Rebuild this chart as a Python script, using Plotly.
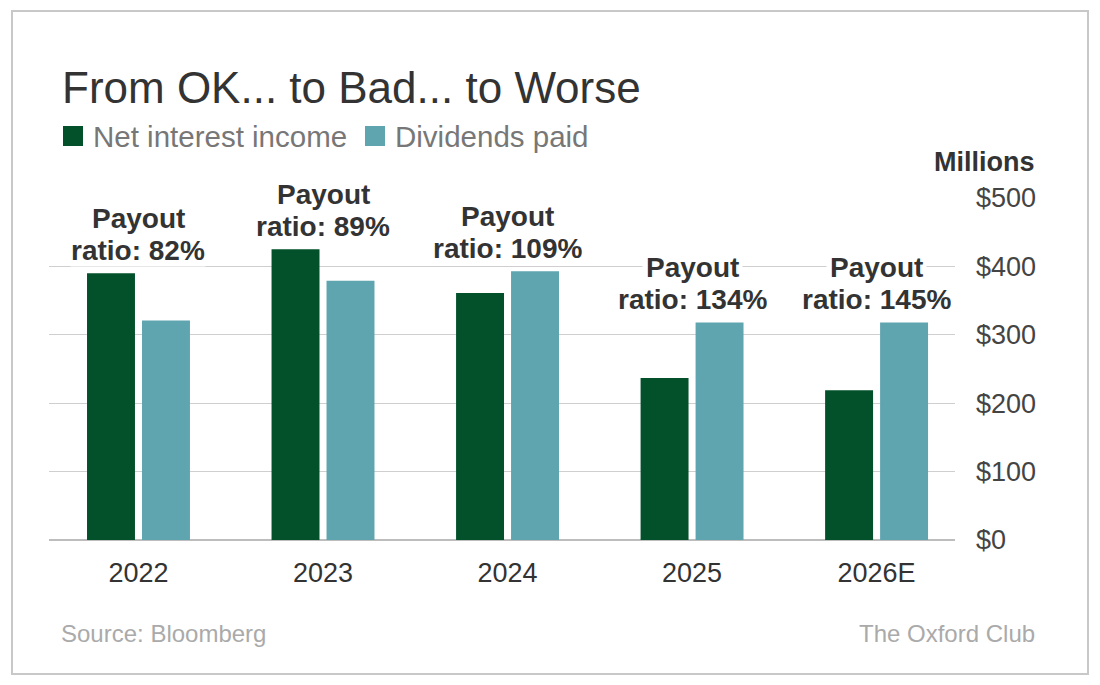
import plotly.graph_objects as go

# ---- data ----
years = ["2022", "2023", "2024", "2025", "2026E"]
net_interest_income = [390, 425, 361, 237, 219]
dividends_paid = [321, 379, 393, 318, 318]
payout_ratios = ["82%", "89%", "109%", "134%", "145%"]
y_ticks = [0, 100, 200, 300, 400, 500]
y_tick_labels = ["$0", "$100", "$200", "$300", "$400", "$500"]

# ---- styles ----
FONT = "Liberation Sans, Arial, Helvetica, sans-serif"
GREEN = "#02512a"
TEAL = "#5fa5b0"
W, H = 1100, 685
L, R, T, B = 49, 145, 198, 145
PW, PH = W - L - R, H - T - B


def xp(px):
    return (px - L) / PW


def yp(py):
    return (H - B - py) / PH


fig = go.Figure()
fig.add_trace(go.Bar(x=years, y=net_interest_income, name="Net interest income",
                     marker=dict(color=GREEN, line=dict(width=0))))
fig.add_trace(go.Bar(x=years, y=dividends_paid, name="Dividends paid",
                     marker=dict(color=TEAL, line=dict(width=0))))

annotations = []
# payout ratio labels (category axis: position by category index)
for i, (a, b, r) in enumerate(zip(net_interest_income, dividends_paid, payout_ratios)):
    top = max(a, b)
    annotations.append(dict(x=i, y=top, xref="x", yref="y", text="<b>Payout</b>",
                            showarrow=False, yanchor="middle", yshift=55,
                            font=dict(family=FONT, size=28, color="#333333"),
                            bgcolor="white", borderpad=3))
    annotations.append(dict(x=i, y=top, xref="x", yref="y", text=f"<b>ratio: {r}</b>",
                            showarrow=False, yanchor="middle", yshift=23,
                            font=dict(family=FONT, size=28, color="#333333"),
                            bgcolor="white", borderpad=0))

# title
annotations.append(dict(x=xp(60), y=yp(87), xref="paper", yref="paper",
                        text="From OK... to Bad... to Worse", showarrow=False,
                        xanchor="left", yanchor="middle",
                        font=dict(family=FONT, size=44, color="#333333")))
# legend texts
annotations.append(dict(x=xp(91), y=yp(136), xref="paper", yref="paper",
                        text="Net interest income", showarrow=False,
                        xanchor="left", yanchor="middle",
                        font=dict(family=FONT, size=29.5, color="#777777")))
annotations.append(dict(x=xp(393), y=yp(136), xref="paper", yref="paper",
                        text="Dividends paid", showarrow=False,
                        xanchor="left", yanchor="middle",
                        font=dict(family=FONT, size=29.5, color="#777777")))
# units
annotations.append(dict(x=xp(1037), y=yp(162), xref="paper", yref="paper",
                        text="<b>Millions</b>", showarrow=False,
                        xanchor="right", yanchor="middle",
                        font=dict(family=FONT, size=27, color="#333333")))
# footer
annotations.append(dict(x=xp(59), y=yp(633), xref="paper", yref="paper",
                        text="Source: Bloomberg", showarrow=False,
                        xanchor="left", yanchor="middle",
                        font=dict(family=FONT, size=24, color="#aaaaaa")))
annotations.append(dict(x=xp(1037), y=yp(633), xref="paper", yref="paper",
                        text="The Oxford Club", showarrow=False,
                        xanchor="right", yanchor="middle",
                        font=dict(family=FONT, size=24, color="#aaaaaa")))

shapes = [
    # legend squares
    dict(type="rect", xref="paper", yref="paper", x0=xp(63), x1=xp(83),
         y0=yp(146), y1=yp(126), fillcolor=GREEN, line=dict(width=0)),
    dict(type="rect", xref="paper", yref="paper", x0=xp(365), x1=xp(385),
         y0=yp(146), y1=yp(126), fillcolor=TEAL, line=dict(width=0)),
    # frame
    dict(type="rect", xref="paper", yref="paper", x0=xp(12), x1=xp(1088),
         y0=yp(674), y1=yp(11), fillcolor="rgba(0,0,0,0)",
         line=dict(color="#c8c8c8", width=2), layer="below"),
]

fig.update_layout(
    width=W, height=H,
    margin=dict(l=L, r=R, t=T, b=B, pad=0),
    paper_bgcolor="white", plot_bgcolor="white",
    barmode="group", bargap=0.404, bargroupgap=0.128,
    showlegend=False,
    annotations=annotations, shapes=shapes,
    font=dict(family=FONT),
)
fig.update_xaxes(type="category", range=[-0.485, 4.425], showgrid=False,
                 showline=False, ticks="", ticklabelstandoff=14,
                 tickfont=dict(family=FONT, size=27, color="#333333"),
                 fixedrange=True)
fig.update_yaxes(side="right", range=[0, 500], tickvals=y_ticks, ticktext=y_tick_labels,
                 showgrid=True, gridcolor="#cfcfcf", gridwidth=1,
                 zeroline=True, zerolinecolor="#bdbdbd", zerolinewidth=2,
                 showline=False, ticks="", ticklabelstandoff=20,
                 tickfont=dict(family=FONT, size=27, color="#444444"),
                 fixedrange=True)

fig.write_html("out.html")
